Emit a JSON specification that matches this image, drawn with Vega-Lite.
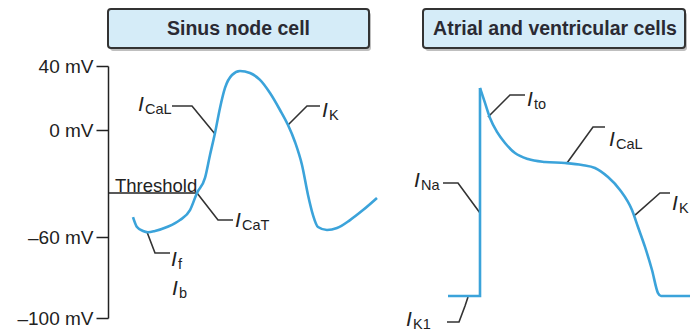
{
  "$schema": "https://vega.github.io/schema/vega-lite/v6.json",
  "width": 690,
  "height": 331,
  "autosize": {"type": "none"},
  "padding": 0,
  "background": "white",
  "view": {"stroke": null},
  "config": {"font": "Liberation Sans"},
  "datasets": {
    "boxes": [
      {"title": "Sinus node cell", "t": 108, "t2": 369, "mV": 75.6, "mV2": 51.3, "tc": 238.5, "mVc": 59.4},
      {"title": "Atrial and ventricular cells", "t": 423, "t2": 685, "mV": 75.6, "mV2": 51.3, "tc": 555, "mVc": 59.4}
    ],
    "curves": [
      {"seg": "sinus", "i": 0, "t": 133, "mV": -48.8},
      {"seg": "sinus", "i": 1, "t": 137, "mV": -54.4},
      {"seg": "sinus", "i": 2, "t": 143, "mV": -56.6},
      {"seg": "sinus", "i": 3, "t": 148, "mV": -57.3},
      {"seg": "sinus", "i": 4, "t": 155, "mV": -56.6},
      {"seg": "sinus", "i": 5, "t": 167, "mV": -54.4},
      {"seg": "sinus", "i": 6, "t": 180, "mV": -50.5},
      {"seg": "sinus", "i": 7, "t": 190, "mV": -44.9},
      {"seg": "sinus", "i": 8, "t": 197, "mV": -35.3},
      {"seg": "sinus", "i": 9, "t": 205, "mV": -26.9},
      {"seg": "sinus", "i": 10, "t": 210, "mV": -14.0},
      {"seg": "sinus", "i": 11, "t": 215, "mV": -1.7},
      {"seg": "sinus", "i": 12, "t": 220, "mV": 13.8},
      {"seg": "sinus", "i": 13, "t": 225, "mV": 26.3},
      {"seg": "sinus", "i": 14, "t": 232, "mV": 34.4},
      {"seg": "sinus", "i": 15, "t": 240, "mV": 36.9},
      {"seg": "sinus", "i": 16, "t": 250, "mV": 35.6},
      {"seg": "sinus", "i": 17, "t": 260, "mV": 31.3},
      {"seg": "sinus", "i": 18, "t": 270, "mV": 23.1},
      {"seg": "sinus", "i": 19, "t": 280, "mV": 12.5},
      {"seg": "sinus", "i": 20, "t": 288, "mV": 3.1},
      {"seg": "sinus", "i": 21, "t": 295, "mV": -6.7},
      {"seg": "sinus", "i": 22, "t": 302, "mV": -19.6},
      {"seg": "sinus", "i": 23, "t": 308, "mV": -36.4},
      {"seg": "sinus", "i": 24, "t": 313, "mV": -47.7},
      {"seg": "sinus", "i": 25, "t": 318, "mV": -54.4},
      {"seg": "sinus", "i": 26, "t": 327, "mV": -56.1},
      {"seg": "sinus", "i": 27, "t": 337, "mV": -55.0},
      {"seg": "sinus", "i": 28, "t": 350, "mV": -50.5},
      {"seg": "sinus", "i": 29, "t": 363, "mV": -44.9},
      {"seg": "sinus", "i": 30, "t": 377, "mV": -38.1},
      {"seg": "upstroke", "i": 0, "t": 448, "mV": -89.1},
      {"seg": "upstroke", "i": 1, "t": 480, "mV": -89.1},
      {"seg": "upstroke", "i": 2, "t": 480, "mV": 26.3},
      {"seg": "repol", "i": 0, "t": 480, "mV": 26.3},
      {"seg": "repol", "i": 1, "t": 485, "mV": 16.9},
      {"seg": "repol", "i": 2, "t": 490, "mV": 7.5},
      {"seg": "repol", "i": 3, "t": 497, "mV": -1.1},
      {"seg": "repol", "i": 4, "t": 505, "mV": -7.3},
      {"seg": "repol", "i": 5, "t": 515, "mV": -12.9},
      {"seg": "repol", "i": 6, "t": 528, "mV": -16.3},
      {"seg": "repol", "i": 7, "t": 545, "mV": -17.9},
      {"seg": "repol", "i": 8, "t": 565, "mV": -18.5},
      {"seg": "repol", "i": 9, "t": 582, "mV": -19.6},
      {"seg": "repol", "i": 10, "t": 595, "mV": -21.3},
      {"seg": "repol", "i": 11, "t": 608, "mV": -26.4},
      {"seg": "repol", "i": 12, "t": 620, "mV": -33.6},
      {"seg": "repol", "i": 13, "t": 632, "mV": -44.9},
      {"seg": "repol", "i": 14, "t": 638, "mV": -54.4},
      {"seg": "repol", "i": 15, "t": 645, "mV": -64.9},
      {"seg": "repol", "i": 16, "t": 652, "mV": -76.3},
      {"seg": "repol", "i": 17, "t": 658, "mV": -87.7},
      {"seg": "repol", "i": 18, "t": 661, "mV": -89.1},
      {"seg": "repol", "i": 19, "t": 690, "mV": -89.1}
    ],
    "leaders": [
      {"id": "CaL_s", "i": 0, "t": 172, "mV": 15.0},
      {"id": "CaL_s", "i": 1, "t": 192, "mV": 15.0},
      {"id": "CaL_s", "i": 2, "t": 215, "mV": -2.2},
      {"id": "K_s", "i": 0, "t": 320, "mV": 15.0},
      {"id": "K_s", "i": 1, "t": 307, "mV": 15.0},
      {"id": "K_s", "i": 2, "t": 288, "mV": 3.1},
      {"id": "CaT_s", "i": 0, "t": 197, "mV": -35.3},
      {"id": "CaT_s", "i": 1, "t": 218, "mV": -50.5},
      {"id": "CaT_s", "i": 2, "t": 233, "mV": -50.5},
      {"id": "f_s", "i": 0, "t": 147, "mV": -57.2},
      {"id": "f_s", "i": 1, "t": 155, "mV": -67.9},
      {"id": "f_s", "i": 2, "t": 170, "mV": -67.9},
      {"id": "to_a", "i": 0, "t": 488, "mV": 8.1},
      {"id": "to_a", "i": 1, "t": 510, "mV": 21.9},
      {"id": "to_a", "i": 2, "t": 525, "mV": 21.9},
      {"id": "CaL_a", "i": 0, "t": 567, "mV": -18.5},
      {"id": "CaL_a", "i": 1, "t": 593, "mV": 1.9},
      {"id": "CaL_a", "i": 2, "t": 605, "mV": 1.9},
      {"id": "Na_a", "i": 0, "t": 443, "mV": -29.7},
      {"id": "Na_a", "i": 1, "t": 458, "mV": -29.7},
      {"id": "Na_a", "i": 2, "t": 480, "mV": -46.5},
      {"id": "K_a", "i": 0, "t": 635, "mV": -47.7},
      {"id": "K_a", "i": 1, "t": 660, "mV": -35.3},
      {"id": "K_a", "i": 2, "t": 670, "mV": -35.3},
      {"id": "K1_a", "i": 0, "t": 468, "mV": -89.6},
      {"id": "K1_a", "i": 1, "t": 465, "mV": -94.1},
      {"id": "K1_a", "i": 2, "t": 459, "mV": -102.0},
      {"id": "K1_a", "i": 3, "t": 447, "mV": -102.0}
    ],
    "labels": [
      {"sub": "CaL", "t": 138, "mV": 11.9},
      {"sub": "K", "t": 322, "mV": 8.1},
      {"sub": "CaT", "t": 235, "mV": -54.4},
      {"sub": "f", "t": 171, "mV": -74.3},
      {"sub": "b", "t": 172, "mV": -88.6},
      {"sub": "to", "t": 527, "mV": 15.0},
      {"sub": "CaL", "t": 609, "mV": -9.0},
      {"sub": "Na", "t": 414, "mV": -32.0},
      {"sub": "K", "t": 672, "mV": -44.9},
      {"sub": "K1", "t": 406, "mV": -103.8}
    ],
    "threshold": [
      {"label": "Threshold", "t": 108, "t2": 197, "mV": -35.3, "tl": 115, "mVl": -34.6}
    ]
  },
  "encoding": {
    "x": {"field": "t", "type": "quantitative", "scale": {"domain": [0, 690], "nice": false, "zero": false}, "axis": null},
    "y": {
      "field": "mV",
      "type": "quantitative",
      "scale": {"domain": [-100, -60, 0, 40], "range": [318, 237, 130, 66], "nice": false, "zero": false},
      "axis": {
        "orient": "left",
        "offset": -108,
        "values": [40, 0, -60, -100],
        "title": null,
        "grid": false,
        "tickSize": 12,
        "tickWidth": 1.5,
        "tickColor": "#222",
        "domainWidth": 1.5,
        "domainColor": "#222",
        "labelPadding": 3,
        "labelFontSize": 19,
        "labelFont": "Liberation Sans",
        "labelColor": "#222",
        "labelFlush": false,
        "labelOverlap": false,
        "labelBound": false,
        "labelExpr": "datum.value < 0 ? '–' + abs(datum.value) + ' mV' : datum.value + ' mV'"
      }
    }
  },
  "layer": [
    {
      "data": {"name": "boxes"},
      "mark": {"type": "rect", "fill": "#8a8a8a", "opacity": 0.55, "cornerRadius": 3, "xOffset": 2, "x2Offset": 2, "yOffset": 3, "y2Offset": 3},
      "encoding": {"x2": {"field": "t2"}, "y2": {"field": "mV2"}}
    },
    {
      "data": {"name": "boxes"},
      "mark": {"type": "rect", "fill": "#d5ecf8", "stroke": "#333333", "strokeWidth": 2, "cornerRadius": 3},
      "encoding": {"x2": {"field": "t2"}, "y2": {"field": "mV2"}}
    },
    {
      "data": {"name": "boxes"},
      "mark": {"type": "text", "font": "Liberation Sans", "fontWeight": "bold", "fontSize": 19.5, "color": "#2a2a33", "align": "center", "baseline": "alphabetic"},
      "encoding": {
        "x": {"field": "tc", "type": "quantitative"},
        "y": {"field": "mVc", "type": "quantitative"},
        "text": {"field": "title"}
      }
    },
    {
      "data": {"name": "threshold"},
      "mark": {"type": "rule", "color": "#222", "strokeWidth": 1.5},
      "encoding": {"x2": {"field": "t2"}}
    },
    {
      "data": {"name": "threshold"},
      "mark": {"type": "text", "font": "Liberation Sans", "fontSize": 18.5, "color": "#222", "align": "left", "baseline": "alphabetic"},
      "encoding": {
        "x": {"field": "tl", "type": "quantitative"},
        "y": {"field": "mVl", "type": "quantitative"},
        "text": {"field": "label"}
      }
    },
    {
      "data": {"name": "leaders"},
      "mark": {"type": "line", "color": "#333", "strokeWidth": 1.6},
      "encoding": {"detail": {"field": "id"}, "order": {"field": "i", "type": "quantitative"}}
    },
    {
      "data": {"name": "curves"},
      "transform": [{"filter": "datum.seg !== 'upstroke'"}],
      "mark": {"type": "line", "color": "#3ba3da", "strokeWidth": 2.6, "interpolate": "monotone"},
      "encoding": {"detail": {"field": "seg"}}
    },
    {
      "data": {"name": "curves"},
      "transform": [{"filter": "datum.seg === 'upstroke'"}],
      "mark": {"type": "line", "color": "#3ba3da", "strokeWidth": 2.6, "interpolate": "linear"},
      "encoding": {"order": {"field": "i", "type": "quantitative"}}
    },
    {
      "data": {"name": "labels"},
      "mark": {"type": "text", "font": "Liberation Sans", "fontStyle": "italic", "fontSize": 21, "color": "#222", "align": "left", "baseline": "alphabetic"},
      "encoding": {"text": {"value": "I"}}
    },
    {
      "data": {"name": "labels"},
      "mark": {"type": "text", "font": "Liberation Sans", "fontSize": 14.5, "color": "#222", "align": "left", "baseline": "alphabetic", "dx": 7, "dy": 3},
      "encoding": {"text": {"field": "sub"}}
    }
  ]
}
